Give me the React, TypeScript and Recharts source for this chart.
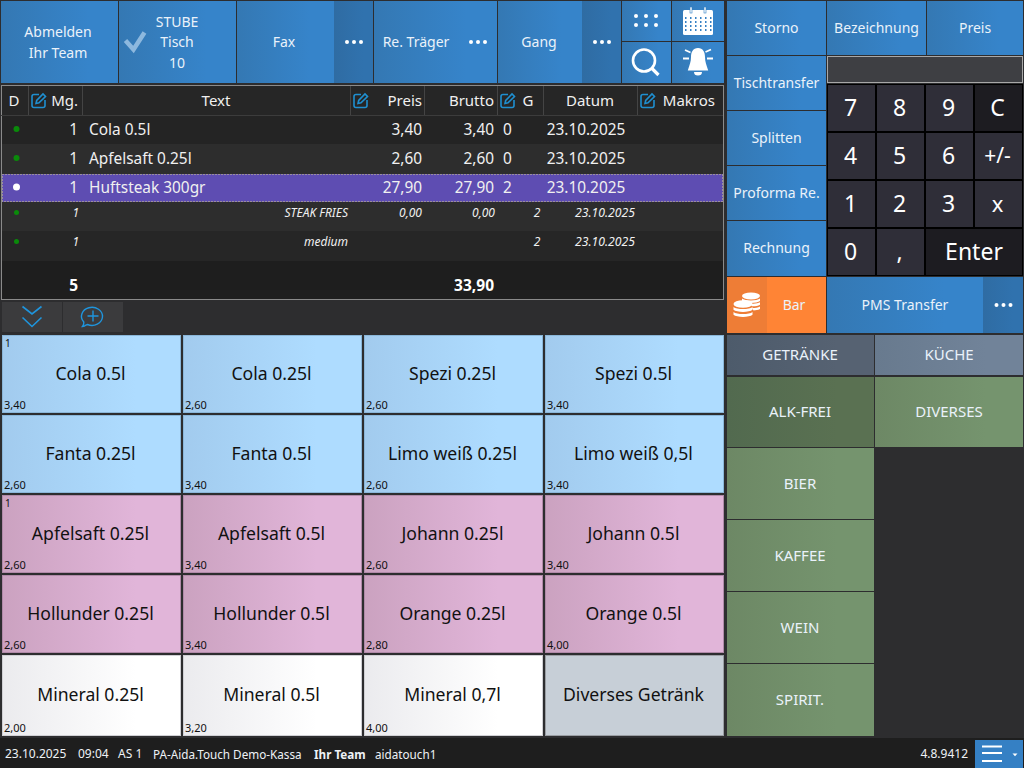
import React from "react";
import { ScatterChart, Scatter, XAxis, YAxis } from "recharts";

// ---------- values ----------
const tileLabels = [
  "Cola 0.5l", "Cola 0.25l", "Spezi 0.25l", "Spezi 0.5l",
  "Fanta 0.25l", "Fanta 0.5l", "Limo weiß 0.25l", "Limo weiß 0,5l",
  "Apfelsaft 0.25l", "Apfelsaft 0.5l", "Johann 0.25l", "Johann 0.5l",
  "Hollunder 0.25l", "Hollunder 0.5l", "Orange 0.25l", "Orange 0.5l",
  "Mineral 0.25l", "Mineral 0.5l", "Mineral 0,7l", "Diverses Getränk",
];
const tilePrices = [
  "3,40", "2,60", "2,60", "3,40",
  "2,60", "3,40", "2,60", "3,40",
  "2,60", "3,40", "2,60", "3,40",
  "2,60", "3,40", "2,80", "4,00",
  "2,00", "3,20", "4,00", "",
];
const tileCounts = ["1", "", "", "", "", "", "", "", "1", "", "", "", "", "", "", "", "", "", "", ""];

const orderQty = ["1", "1", "1", "1", "1"];
const orderText = ["Cola 0.5l", "Apfelsaft 0.25l", "Huftsteak 300gr", "STEAK FRIES", "medium"];
const orderPrice = ["3,40", "2,60", "27,90", "0,00", ""];
const orderGross = ["3,40", "2,60", "27,90", "0,00", ""];
const orderCourse = ["0", "0", "2", "2", "2"];
const orderDate = ["23.10.2025", "23.10.2025", "23.10.2025", "23.10.2025", "23.10.2025"];
const totalQty = "5";
const totalGross = "33,90";

const sideLabels = ["Storno", "Tischtransfer", "Splitten", "Proforma Re.", "Rechnung"];
const keypadLabels = ["7", "8", "9", "C", "4", "5", "6", "+/-", "1", "2", "3", "x", "0", ","];
const groupLabels = ["ALK-FREI", "BIER", "KAFFEE", "WEIN", "SPIRIT."];
const statusLeft = ["23.10.2025", "09:04", "AS 1", "PA-Aida.Touch Demo-Kassa", "Ihr Team", "aidatouch1"];
const versionLabel = "4.8.9412";

// ---------- layout ----------
const FONT = "'Noto Sans', sans-serif";
const rowEdges = [116, 144, 174, 202, 231, 261];
const statusX = [5, 78, 118, 153, 314, 375];
const headerSeps = [28, 82, 350, 424, 497, 543, 637];
const sideY = [1, 56, 111, 166, 221];
const sideH = [54, 54, 54, 54, 55];
const keyX = [828, 877, 926, 975];
const keyY = [85, 133, 181, 229];
const groupY = [377, 448, 520, 592, 664];
const groupH = [70, 71, 71, 71, 72];

type Btn = { x: number; y: number; w: number; h: number; fill: string; lines?: string[]; tx?: number; ty?: number[]; size?: number; color?: string };

const buttons: Btn[] = [
  { x: 1, y: 1, w: 117, h: 82, fill: "url(#blue)", lines: ["Abmelden", "Ihr Team"], tx: 58, ty: [31, 52] },
  { x: 119, y: 1, w: 117, h: 82, fill: "url(#blue)", lines: ["STUBE", "Tisch", "10"], tx: 177, ty: [21, 41, 62] },
  { x: 237, y: 1, w: 97, h: 82, fill: "url(#blue)", lines: ["Fax"], tx: 284 },
  { x: 334, y: 1, w: 39, h: 82, fill: "url(#blueDark)" },
  { x: 374, y: 1, w: 123, h: 82, fill: "url(#blue)", lines: ["Re. Träger"], tx: 416 },
  { x: 498, y: 1, w: 84, h: 82, fill: "url(#blue)", lines: ["Gang"], tx: 539 },
  { x: 582, y: 1, w: 39, h: 82, fill: "url(#blueDark)" },
  { x: 622, y: 1, w: 49, h: 40, fill: "url(#blue)" },
  { x: 672, y: 1, w: 52, h: 40, fill: "url(#blue)" },
  { x: 622, y: 42, w: 49, h: 41, fill: "url(#blue)" },
  { x: 672, y: 42, w: 52, h: 41, fill: "url(#blue)" },
  ...sideLabels.map((l, i) => ({ x: 727, y: sideY[i], w: 99, h: sideH[i], fill: "url(#blue)", lines: [l] })),
  { x: 827, y: 1, w: 99, h: 54, fill: "url(#blue)", lines: ["Bezeichnung"] },
  { x: 927, y: 1, w: 96, h: 54, fill: "url(#blue)", lines: ["Preis"] },
  { x: 727, y: 277, w: 40, h: 56, fill: "#ee7d36" },
  { x: 767, y: 277, w: 59, h: 56, fill: "#ff8435", lines: ["Bar"], tx: 794 },
  { x: 827, y: 277, w: 156, h: 56, fill: "url(#blue)", lines: ["PMS Transfer"] },
  { x: 983, y: 277, w: 40, h: 56, fill: "url(#blueDark)" },
  { x: 727, y: 335, w: 147, h: 40, fill: "url(#slateDark)", lines: ["GETRÄNKE"], size: 15, tx: 800 },
  { x: 875, y: 335, w: 148, h: 40, fill: "url(#slate)", lines: ["KÜCHE"], size: 15 },
  ...groupLabels.map((l, i) => ({ x: 727, y: groupY[i], w: 147, h: groupH[i], fill: i === 0 ? "url(#greenDark)" : "url(#green)", lines: [l], size: 15, tx: 800 })),
  { x: 875, y: 377, w: 148, h: 70, fill: "url(#green)", lines: ["DIVERSES"], size: 15 },
  { x: 2, y: 302, w: 60, h: 30, fill: "#3b3b3d" },
  { x: 63, y: 302, w: 60, h: 30, fill: "#3b3b3d" },
];
const menuButton: Btn[] = [{ x: 975, y: 740, w: 48, h: 28, fill: "#3580c4" }];

const keypadBack: Btn[] = [{ x: 827, y: 84, w: 196, h: 192, fill: "#000000" }];
const keys: Btn[] = [
  ...keypadLabels.map((l, i) => {
    const dark = l === "C";
    return { x: keyX[i % 4], y: keyY[Math.floor(i / 4)], w: 47, h: 46, fill: dark ? "#1d1c21" : "#2f2e38", lines: [l], tx: keyX[i % 4] + 22.5, size: l === "+/-" ? 21 : l === "x" ? 22 : 23, color: "#ffffff" };
  }),
  { x: 926, y: 229, w: 96, h: 46, fill: "#1d1c21", lines: ["Enter"], tx: 974, size: 23, color: "#ffffff" },
];

const tableRows = rowEdges.map((y, i) => ({
  x: 2, y, h: (i < 5 ? rowEdges[i + 1] : 298) - y,
  fill: i === 5 ? "#1e1e1e" : i === 2 ? "#5e4db2" : ["#242424", "#2d2d2d", "", "#2d2d2d", "#262626"][i],
  row: i,
}));

const tiles = tileLabels.map((label, i) => ({
  col: i % 4, row: Math.floor(i / 4), label, price: tilePrices[i], count: tileCounts[i], index: i,
}));

// ---------- small drawing helpers ----------
const T = ({ x, y, s, size = 14, fill = "#eaf2fa", anchor = "middle", weight = "normal", italic = false }: any) => (
  <text x={x} y={y} fontFamily={FONT} fontSize={size} fill={fill} textAnchor={anchor} dominantBaseline="central" fontWeight={weight} fontStyle={italic ? "italic" : "normal"}>{s}</text>
);

const Dots = ({ x, y }: { x: number; y: number }) => (
  <g fill="#ffffff">
    <circle cx={x - 7} cy={y} r={2} /><circle cx={x} cy={y} r={2} /><circle cx={x + 7} cy={y} r={2} />
  </g>
);

const EditIcon = ({ x, y }: { x: number; y: number }) => (
  <g fill="none" stroke="#1f8fd0" strokeWidth={1.6}>
    <path d={`M${x + 8} ${y + 1.500}H${x + 3}a2 2 0 0 0-2 2v9a2 2 0 0 0 2 2h9a2 2 0 0 0 2-2V${y + 7}`} />
    <path d={`M${x + 5} ${y + 10.500}l.7-3L${x + 12} ${y + 1}l2.500 2.500L${x + 8} ${y + 9.800}z`} />
  </g>
);

const ButtonShape = (p: any) => {
  const b: Btn = p.payload;
  const tx = b.tx ?? b.x + b.w / 2;
  const lines = b.lines ?? [];
  return (
    <g>
      <rect x={p.cx} y={p.cy} width={b.w} height={b.h} fill={b.fill} />
      {lines.map((l, i) => (
        <T key={i} x={tx} y={b.ty ? b.ty[i] : b.y + b.h / 2 - 1} s={l} size={b.size ?? 14} fill={b.color ?? "#eaf2fa"} />
      ))}
    </g>
  );
};

const TileShape = (p: any) => {
  const d = p.payload;
  const last = d.row === 4;
  const h = last ? 81 : 78;
  const w = 179;
  const palette = d.index === 19
    ? { fill: "#c7cfd7", stroke: "#9a9ea3" }
    : d.row < 2 ? { fill: "url(#tileBlue)", stroke: "#8ab6d8" }
    : d.row < 4 ? { fill: "url(#tilePink)", stroke: "#b08aa8" }
    : { fill: "url(#tileWhite)", stroke: "#d0d0d4" };
  return (
    <g>
      <rect x={p.cx + 0.5} y={p.cy + 0.5} width={w - 1} height={h - 1} fill={palette.fill} stroke={palette.stroke} />
      <T x={p.cx + w / 2 - 1} y={p.cy + (last ? 38.500 : 37.500)} s={d.label} size={17.600} fill="#111111" />
      {d.price ? <T x={p.cx + 2} y={p.cy + h - 9} s={d.price} size={11} fill="#111111" anchor="start" /> : null}
      {d.count ? <T x={p.cx + 3} y={p.cy + 8} s={d.count} size={10} fill="#111111" anchor="start" /> : null}
    </g>
  );
};

const RowShape = (p: any) => {
  const r = p.payload;
  const i = r.row;
  const midY = p.cy + r.h / 2 - 1;
  if (i === 5) {
    return (
      <g>
        <rect x={p.cx} y={p.cy} width={721} height={r.h} fill={r.fill} />
        <T x={78} y={285} s={totalQty} size={15.500} fill="#ffffff" anchor="end" weight="bold" />
        <T x={494} y={285} s={totalGross} size={15.500} fill="#ffffff" anchor="end" weight="bold" />
      </g>
    );
  }
  const sub = i > 2;
  const ty = sub ? p.cy + 10.500 : midY;
  const fg = "#f0f0f0";
  return (
    <g>
      <rect x={p.cx} y={p.cy} width={721} height={r.h} fill={r.fill} />
      {i === 2 ? <rect x={2.500} y={p.cy + 0.500} width={720} height={r.h - 1} fill="none" stroke="#d8d08a" strokeDasharray="1 2" /> : null}
      <circle cx={16.500} cy={ty} r={sub ? 2.500 : i === 2 ? 3.500 : 3} fill={i === 2 ? "#ffffff" : "#0a8a0a"} />
      {sub ? (
        <g>
          <T x={79} y={ty} s={orderQty[i]} size={12} anchor="end" italic fill={fg} />
          <T x={348} y={ty} s={orderText[i]} size={12} anchor="end" italic fill={fg} />
          <T x={422} y={ty} s={orderPrice[i]} size={12} anchor="end" italic fill={fg} />
          <T x={495} y={ty} s={orderGross[i]} size={12} anchor="end" italic fill={fg} />
          <T x={537} y={ty} s={orderCourse[i]} size={12} italic fill={fg} />
          <T x={605} y={ty} s={orderDate[i]} size={12.200} italic fill={fg} />
        </g>
      ) : (
        <g>
          <T x={78} y={ty} s={orderQty[i]} size={15.400} anchor="end" fill={fg} />
          <T x={89} y={ty} s={orderText[i]} size={15.400} anchor="start" fill={fg} />
          <T x={422} y={ty} s={orderPrice[i]} size={15.400} anchor="end" fill={fg} />
          <T x={494} y={ty} s={orderGross[i]} size={15.400} anchor="end" fill={fg} />
          <T x={503} y={ty} s={orderCourse[i]} size={15.400} anchor="start" fill={fg} />
          <T x={586} y={ty} s={orderDate[i]} size={15.400} fill={fg} />
        </g>
      )}
    </g>
  );
};

const TableFrame = (p: any) => (
  <g>
    <rect x={p.cx + 0.500} y={p.cy + 0.500} width={722} height={214} fill="#1e1e1e" stroke="#8a8a8a" />
    <rect x={2} y={86} width={721} height={29} fill="#262626" />
    <line x1={1} x2={723} y1={115.500} y2={115.500} stroke="#3c3c3c" />
    {headerSeps.map((x) => <line key={x} x1={x + 0.500} x2={x + 0.500} y1={86} y2={115} stroke="#444444" />)}
    <T x={14} y={100} s="D" size={15} fill="#f0f0f0" />
    <EditIcon x={31} y={93} />
    <T x={78} y={100} s="Mg." size={15} anchor="end" fill="#f0f0f0" />
    <T x={216} y={100} s="Text" size={15} fill="#f0f0f0" />
    <EditIcon x={353} y={93} />
    <T x={422} y={100} s="Preis" size={15} anchor="end" fill="#f0f0f0" />
    <T x={494} y={100} s="Brutto" size={15} anchor="end" fill="#f0f0f0" />
    <EditIcon x={500} y={93} />
    <T x={528} y={100} s="G" size={15} fill="#f0f0f0" />
    <T x={590} y={100} s="Datum" size={15} fill="#f0f0f0" />
    <EditIcon x={640} y={93} />
    <T x={715} y={100} s="Makros" size={15} anchor="end" fill="#f0f0f0" />
  </g>
);

const InputShape = (p: any) => (
  <rect x={p.cx + 0.500} y={p.cy + 0.500} width={195} height={26} fill="#3e3f43" stroke="#a8a8a8" />
);

const StatusShape = (p: any) => (
  <g>
    <rect x={p.cx} y={p.cy} width={1024} height={30} fill="#1e1e1e" />
    {statusLeft.map((s, i) => (
      <T key={i} x={statusX[i]} y={753.500} s={s} size={i < 3 ? 12 : 11.700} fill="#eef2f6" anchor="start" weight={i === 4 ? "bold" : "normal"} />
    ))}
    <T x={968} y={753.500} s={versionLabel} size={12} fill="#eef2f6" anchor="end" />
  </g>
);

const IconShape = () => (
  <g>
    {/* check */}
    <path d="M125.500 40.500L133.500 49.500L144.500 32.500" fill="none" stroke="#8db8de" strokeWidth={4.500} />
    <Dots x={354} y={42} />
    <Dots x={478} y={42} />
    <Dots x={602} y={42} />
    <Dots x={1003.500} y={305} />
    {/* six dots */}
    <g fill="#ffffff">
      {[636, 646, 656].map((x) => [16, 25].map((y) => <circle key={`${x}-${y}`} cx={x} cy={y} r={2} />))}
    </g>
    {/* calendar */}
    <rect x={683} y={10} width={30} height={25} rx={1.500} fill="#ffffff" />
    <rect x={690} y={7} width={2} height={6} fill="#ffffff" stroke="#3580c4" strokeWidth={0.600} />
    <rect x={704} y={7} width={2} height={6} fill="#ffffff" stroke="#3580c4" strokeWidth={0.600} />
    <g fill="#3580c4">
      {[685, 690, 695, 700, 705, 710].map((x) => [17, 21, 25, 29].map((y) => <rect key={`${x}:${y}`} x={x} y={y} width={1.500} height={2} />))}
    </g>
    {/* search */}
    <circle cx={644} cy={60.500} r={11} fill="none" stroke="#ffffff" strokeWidth={2.600} />
    <path d="M652 68.500L658.500 75" stroke="#ffffff" strokeWidth={3.200} />
    {/* bell */}
    <path d="M698 48c-5 0-7 4-7 9 0 5-1.500 8-3.200 13.500h20.400c-1.700-5.500-3.200-8.500-3.200-13.500 0-5-2-9-7-9z" fill="#ffffff" />
    <path d="M694 72h8a4 3.600 0 0 1-8 0z" fill="#ffffff" />
    <g stroke="#ffffff" strokeWidth={1.800}>
      <path d="M683 58.500H689M707 58.500H713M685 50L690.500 52.500M711 49.500L705.500 52" />
    </g>
    {/* coins */}
    <g fill="#ffffff">
      <ellipse cx={751} cy={296} rx={9} ry={3.400} />
      <path d="M742 298.500c3 2.500 15 2.500 18 0v2.500c-3 2.500-15 2.500-18 0zM750 303.500c4 .5 8 0 10-1.200v2.500c-2 1.200-5 1.600-8 1.500zM752 308c3 0 6-.5 8-1.500v2.500c-2 1-4 1.400-6.500 1.500z" />
      <ellipse cx={743} cy={304} rx={9.500} ry={3.800} />
      <path d="M733.500 307c3 2.800 16 2.800 19 0v2.800c-3 2.800-16 2.800-19 0zM733.500 312c3 2.800 16 2.800 19 0v2.800c-3 2.800-16 2.800-19 0z" />
    </g>
    {/* chevrons */}
    <path d="M22.500 306.500L32 314L41.500 306.500M22.500 317.500L32 326.500L41.500 317.500" fill="none" stroke="#1f95dd" strokeWidth={1.600} />
    {/* comment plus */}
    <path d="M86 325c-1 1-2.500 1.500-3.500 1.500c1-1 1.500-2.500 1.300-4.500a10.500 9 0 1 1 3.700 2.500z" fill="none" stroke="#1f95dd" strokeWidth={1.400} />
    <path d="M93 310.500V321.500M87.500 316H98.500" stroke="#1f95dd" strokeWidth={1.400} />
    {/* menu */}
    <path d="M982 746.500H1002M982 753H1002M982 761H1002" stroke="#ffffff" strokeWidth={2} />
    <path d="M1012.500 753.500h5l-2.500 2.800z" fill="#ffffff" />
  </g>
);

const Grad = ({ id, a, b }: { id: string; a: string; b: string }) => (
  <linearGradient id={id} x1="0" y1="0" x2="1" y2="0">
    <stop offset="0" stopColor={a} />
    <stop offset="0.75" stopColor={b} />
    <stop offset="1" stopColor={b} />
  </linearGradient>
);

const origin = [{ x: 0, y: 0 }];

export default function App() {
  return (
    <div style={{ position: "absolute", left: 0, top: 0, width: 1024, height: 768, overflow: "hidden", background: "#2d2d2f" }}>
      <ScatterChart width={1024} height={768} margin={{ top: 0, right: 0, bottom: 0, left: 0 }}>
        <defs>
          <Grad id="blue" a="#3478b3" b="#3684ca" />
          <Grad id="blueDark" a="#2f6ca3" b="#3072ae" />
          <Grad id="slateDark" a="#4d5b6b" b="#566272" />
          <Grad id="slate" a="#687a8e" b="#718399" />
          <Grad id="green" a="#6d8865" b="#75946e" />
          <Grad id="greenDark" a="#526a4f" b="#5a7152" />
          <Grad id="tileBlue" a="#a2cbee" b="#aedcff" />
          <Grad id="tilePink" a="#cba2c0" b="#e1b5d9" />
          <Grad id="tileWhite" a="#ebebee" b="#ffffff" />
        </defs>
        <XAxis xAxisId="px" type="number" dataKey="x" domain={[0, 1024]} hide />
        <YAxis yAxisId="px" type="number" dataKey="y" domain={[0, 768]} reversed hide />
        <XAxis xAxisId="col" type="number" dataKey="col" domain={[0, 4]} padding={{ left: 2, right: 298 }} hide />
        <YAxis yAxisId="row" type="number" dataKey="row" domain={[0, 5]} reversed padding={{ top: 335, bottom: 33 }} hide />

        <Scatter xAxisId="px" yAxisId="px" name="frame" data={[{ x: 1, y: 85 }]} shape={TableFrame} isAnimationActive={false} />
        <Scatter xAxisId="px" yAxisId="px" name="order" data={tableRows} shape={RowShape} isAnimationActive={false} />
        <Scatter xAxisId="px" yAxisId="px" name="buttons" data={buttons} shape={ButtonShape} isAnimationActive={false} />
        <Scatter xAxisId="px" yAxisId="px" name="input" data={[{ x: 827, y: 56 }]} shape={InputShape} isAnimationActive={false} />
        <Scatter xAxisId="px" yAxisId="px" name="keypadBack" data={keypadBack} shape={ButtonShape} isAnimationActive={false} />
        <Scatter xAxisId="px" yAxisId="px" name="keys" data={keys} shape={ButtonShape} isAnimationActive={false} />
        <Scatter xAxisId="col" yAxisId="row" name="tiles" data={tiles} shape={TileShape} isAnimationActive={false} />
        <Scatter xAxisId="px" yAxisId="px" name="status" data={[{ x: 0, y: 738 }]} shape={StatusShape} isAnimationActive={false} />
        <Scatter xAxisId="px" yAxisId="px" name="menu" data={menuButton} shape={ButtonShape} isAnimationActive={false} />
        <Scatter xAxisId="px" yAxisId="px" name="icons" data={origin} shape={IconShape} isAnimationActive={false} />
      </ScatterChart>
    </div>
  );
}
